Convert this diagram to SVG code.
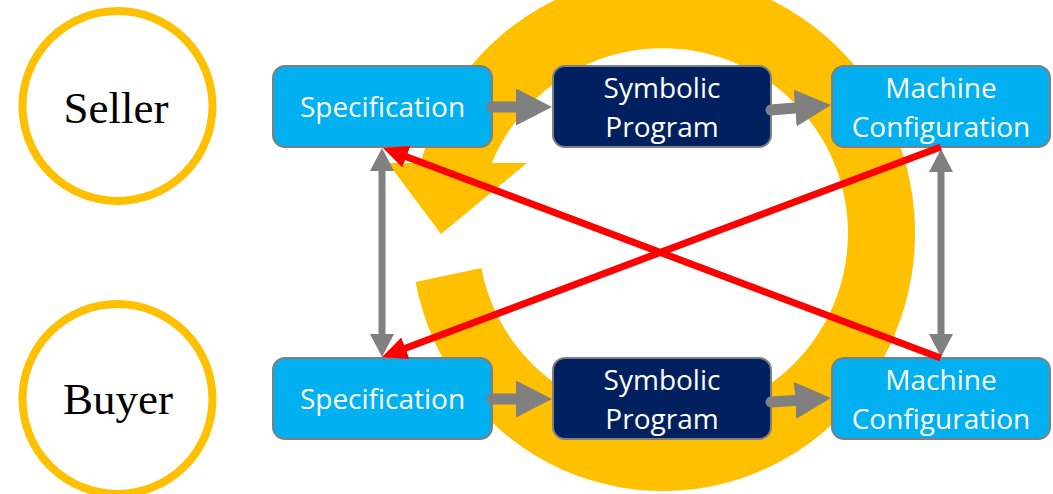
<svg xmlns="http://www.w3.org/2000/svg" width="1053" height="494" viewBox="0 0 1053 494">
<style>
.actor{fill:#FFFFFF;stroke:#FFC000;stroke-width:8}
.actorText{font-family:"Liberation Serif","Times New Roman",serif;font-size:45px;fill:#000000;text-anchor:middle}
.box{stroke:#7F7F7F;stroke-width:2}
.light{fill:#00B0F0}
.dark{fill:#002060}
.label{font-family:"Open Sans","Noto Sans",sans-serif;font-size:28px;fill:#FFFFFF;text-anchor:middle}
.flow{stroke:#808080;stroke-width:11;stroke-linecap:round;fill:none}
.link{stroke:#808080;stroke-width:7;fill:none}
.cross{stroke:#FF0000;stroke-width:7;fill:none}
</style>
<defs>
<marker id="bigHead" markerUnits="userSpaceOnUse" markerWidth="37" markerHeight="37" refX="6" refY="18.5" orient="auto" viewBox="0 0 37 37">
<path d="M0,0 L36,18.5 L0,37 Z" fill="#808080"/>
</marker>
<marker id="grayHead" markerUnits="userSpaceOnUse" markerWidth="24" markerHeight="24" refX="5" refY="12" orient="auto-start-reverse" viewBox="0 0 24 24">
<path d="M0,0 L23,12 L0,24 Z" fill="#808080"/>
</marker>
<marker id="redHead" markerUnits="userSpaceOnUse" markerWidth="26" markerHeight="24" refX="5" refY="11.5" orient="auto" viewBox="0 0 26 23">
<path d="M0,0 L25,11.5 L0,23 Z" fill="#FF0000"/>
</marker>
</defs>

<g id="cycle">
<path d="M415.6,282 A252,258 0 1 0 420.5,163 L491.8,163 A185,185 0 1 1 481.3,268 Z" fill="#FFC000"/>
<polygon points="388,163 527,163 441,234" fill="#FFC000"/>
</g>

<g id="seller">
<circle class="actor" cx="117.5" cy="106" r="95"/>
<text class="actorText" x="116" y="123">Seller</text>
</g>
<g id="buyer">
<circle class="actor" cx="117.5" cy="399" r="95"/>
<text class="actorText" x="118" y="414">Buyer</text>
</g>

<g id="seller-spec">
<rect class="box light" x="273" y="66" width="219" height="81" rx="12"/>
<text class="label" x="382.5" y="117">Specification</text>
</g>
<g id="seller-program">
<rect class="box dark" x="553" y="66" width="218" height="81" rx="12"/>
<text class="label" x="662" y="98">Symbolic</text>
<text class="label" x="662" y="137">Program</text>
</g>
<g id="seller-config">
<rect class="box light" x="832" y="66" width="218" height="81" rx="12"/>
<text class="label" x="941" y="98">Machine</text>
<text class="label" x="941" y="137">Configuration</text>
</g>

<g id="buyer-spec">
<rect class="box light" x="273" y="358" width="219" height="81" rx="12"/>
<text class="label" x="382.5" y="409">Specification</text>
</g>
<g id="buyer-program">
<rect class="box dark" x="553" y="358" width="218" height="81" rx="12"/>
<text class="label" x="662" y="390">Symbolic</text>
<text class="label" x="662" y="429">Program</text>
</g>
<g id="buyer-config">
<rect class="box light" x="832" y="358" width="218" height="81" rx="12"/>
<text class="label" x="941" y="390">Machine</text>
<text class="label" x="941" y="429">Configuration</text>
</g>

<g id="connectors">
<line class="flow" x1="492" y1="107" x2="522" y2="107" marker-end="url(#bigHead)"/>
<line class="flow" x1="771" y1="110" x2="801.1" y2="107.5" marker-end="url(#bigHead)"/>
<line class="flow" x1="492" y1="399" x2="522" y2="399" marker-end="url(#bigHead)"/>
<line class="flow" x1="771" y1="402" x2="801.1" y2="400" marker-end="url(#bigHead)"/>
<line class="link" x1="382" y1="166" x2="382" y2="339" marker-start="url(#grayHead)" marker-end="url(#grayHead)"/>
<line class="link" x1="941" y1="167" x2="941" y2="339" marker-start="url(#grayHead)" marker-end="url(#grayHead)"/>
<line class="cross" x1="940.7" y1="147" x2="400.7" y2="350" marker-end="url(#redHead)"/>
<line class="cross" x1="940.7" y1="358" x2="401.7" y2="155" marker-end="url(#redHead)"/>
</g>
</svg>
